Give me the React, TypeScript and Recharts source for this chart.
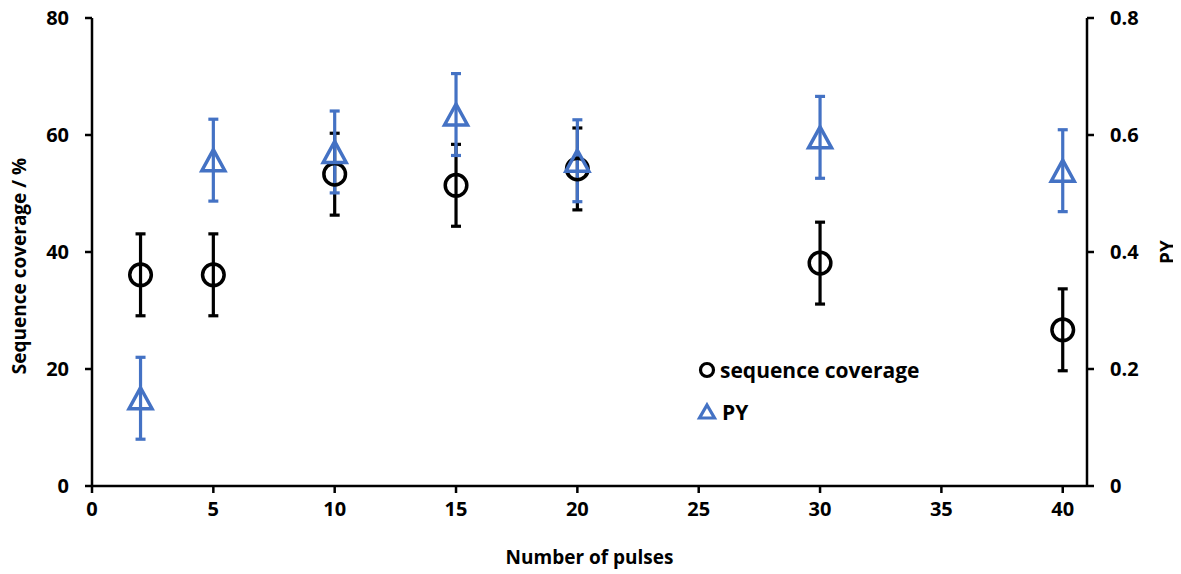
import React from "react";
import {
  ScatterChart,
  Scatter,
  XAxis,
  YAxis,
  ErrorBar,
} from "recharts";

const pulses = [2, 5, 10, 15, 20, 30, 40];
const coverage = [36.1, 36.1, 53.3, 51.4, 54.2, 38.1, 26.7];
const coverageErr = [7, 7, 7, 7, 7, 7, 7];
const py = [0.15, 0.557, 0.571, 0.635, 0.556, 0.596, 0.539];
const pyErr = [0.07, 0.07, 0.07, 0.07, 0.07, 0.07, 0.07];

const xTicks = [0, 5, 10, 15, 20, 25, 30, 35, 40];
const leftTicks = [0, 20, 40, 60, 80];
const rightTicks = [0, 0.2, 0.4, 0.6, 0.8];

const BLUE = "#4472C4";
const FONT = "'Open Sans', Lato, sans-serif";

const coverageData = pulses.map((x, i) => ({ x, y: coverage[i], err: coverageErr[i] }));
const pyData = pulses.map((x, i) => ({ x, y: py[i], err: pyErr[i] }));

const tickStyle = { fill: "#000", fontSize: 20, fontWeight: 700, fontFamily: FONT };
const titleStyle = { fill: "#000", fontSize: 19, fontWeight: 700, fontFamily: FONT };
const axisStroke = { stroke: "#000", strokeWidth: 2.5 };

// hollow circle marker
const CircleMark = (props: any) => {
  const { cx, cy } = props;
  if (cx == null || cy == null) return <g />;
  return <circle cx={cx} cy={cy} r={10.8} fill="none" stroke="#000" strokeWidth={3.5} />;
};

// hollow triangle marker
const TriangleMark = (props: any) => {
  const { cx, cy } = props;
  if (cx == null || cy == null) return <g />;
  const w = 11.5;
  const h = 10.5;
  return (
    <path
      d={`M${cx},${cy - h} L${cx + w},${cy + h} L${cx - w},${cy + h} Z`}
      fill="none"
      stroke={BLUE}
      strokeWidth={3.5}
    />
  );
};

// legend drawn as an overlay so it takes no room from the plot
const LegendBox = () => (
  <svg
    width={270}
    height={80}
    style={{ position: "absolute", left: 698, top: 353, overflow: "visible" }}
  >
    <circle cx={9} cy={17} r={6.5} fill="none" stroke="#000" strokeWidth={3.2} />
    <text x={22} y={17} dominantBaseline="central" fontFamily={FONT} fontWeight={700} fontSize={21} fill="#000">
      sequence coverage
    </text>
    <path d="M9,52 L16.5,65 L1.5,65 Z" fill="none" stroke={BLUE} strokeWidth={3.2} />
    <text x={24} y={59} dominantBaseline="central" fontFamily={FONT} fontWeight={700} fontSize={21} fill="#000">
      PY
    </text>
  </svg>
);

const App = () => {
  return (
    <div style={{ position: "relative", width: 1181, height: 574, marginLeft: -8, marginTop: -8 }}>
      <ScatterChart width={1181} height={574} margin={{ top: 18, right: 8, bottom: 0, left: 8 }}>
        <XAxis
          type="number"
          dataKey="x"
          domain={[0, 41]}
          ticks={xTicks}
          allowDataOverflow
          axisLine={axisStroke}
          tickLine={axisStroke}
          tickSize={7}
          tickMargin={9}
          tick={tickStyle}
          height={88}
          label={{
            value: "Number of pulses",
            position: "insideBottom",
            offset: 10,
            style: titleStyle,
          }}
        />
        <YAxis
          yAxisId="left"
          type="number"
          dataKey="y"
          domain={[0, 80]}
          ticks={leftTicks}
          axisLine={axisStroke}
          tickLine={axisStroke}
          tickSize={7}
          tickMargin={16}
          tick={tickStyle}
          width={84}
          label={{
            value: "Sequence coverage / %",
            angle: -90,
            position: "insideLeft",
            offset: 11,
            dy: 14,
            style: { ...titleStyle, textAnchor: "middle" },
          }}
        />
        <YAxis
          yAxisId="right"
          orientation="right"
          type="number"
          dataKey="y"
          domain={[0, 0.8]}
          ticks={rightTicks}
          tickFormatter={(v: number) => (v === 0 ? "0" : v.toFixed(1))}
          axisLine={axisStroke}
          tickLine={axisStroke}
          tickSize={7}
          tickMargin={16}
          tick={tickStyle}
          width={86}
          label={{
            value: "PY",
            angle: -90,
            position: "insideRight",
            offset: 6,
            style: { ...titleStyle, textAnchor: "middle" },
          }}
        />
        <Scatter
          name="sequence coverage"
          yAxisId="left"
          data={coverageData}
          shape={CircleMark}
          isAnimationActive={false}
        >
          <ErrorBar dataKey="err" direction="y" width={5} stroke="#000" strokeWidth={3.2} />
        </Scatter>
        <Scatter
          name="PY"
          yAxisId="right"
          data={pyData}
          shape={TriangleMark}
          isAnimationActive={false}
        >
          <ErrorBar dataKey="err" direction="y" width={5} stroke={BLUE} strokeWidth={3.2} />
        </Scatter>
      </ScatterChart>
      <LegendBox />
    </div>
  );
};

export default App;
